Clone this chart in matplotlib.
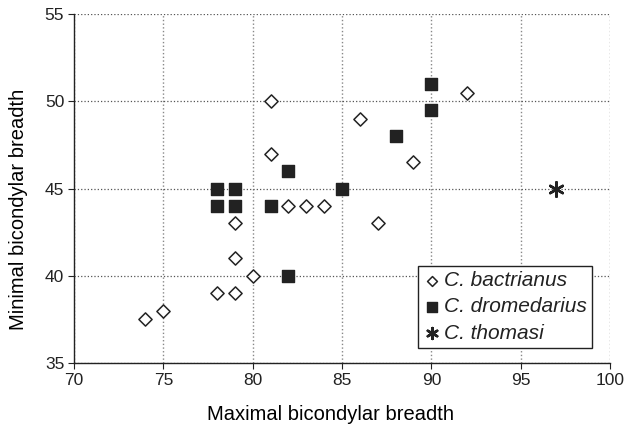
import matplotlib.pyplot as plt

plt.rcParams['font.family'] = ['Liberation Sans', 'DejaVu Sans']
plt.rcParams['text.color'] = '#222222'

# C. bactrianus
bact_x = [74, 75, 78, 79, 79, 79, 80, 81, 81, 82, 83, 84, 86, 87, 89, 92]
bact_y = [37.5, 38, 39, 39, 41, 43, 40, 50, 47, 44, 44, 44, 49, 43, 46.5, 50.5]

# C. dromedarius
drom_x = [78, 79, 78, 79, 81, 82, 82, 85, 88, 90, 90]
drom_y = [45, 45, 44, 44, 44, 46, 40, 45, 48, 51, 49.5]

# C. thomasi
thom_x = [97]
thom_y = [45]

fig = plt.figure(figsize=(6.4, 4.3), dpi=100)
ax = fig.add_axes([0.1156, 0.1558, 0.8375, 0.8116])

ax.xaxis.grid(True, linestyle=':', color='#888888', linewidth=1.0)
ax.yaxis.grid(True, linestyle=':', color='#555555', linewidth=0.9)
ax.set_axisbelow(True)

ax.scatter(bact_x, bact_y, marker='D', s=45, facecolors='white',
           edgecolors='#222222', linewidths=1.1, label='C. bactrianus', zorder=3)
ax.scatter(drom_x, drom_y, marker='s', s=75, color='#222222',
           label='C. dromedarius', zorder=3)
ax.scatter(thom_x, thom_y, marker=(6, 2, 0), s=110, color='#222222',
           linewidths=1.8, label='C. thomasi', zorder=3)

ax.set_xlim(70, 100)
ax.set_ylim(35, 55)
ax.set_xticks(range(70, 101, 5))
ax.set_yticks(range(35, 56, 5))
ax.tick_params(labelsize=12.5, direction='out', length=4, color='#222222',
               labelcolor='#222222', pad=3)

for side in ['top', 'right']:
    ax.spines[side].set_visible(False)
for side in ['left', 'bottom']:
    ax.spines[side].set_color('#222222')
    ax.spines[side].set_linewidth(1.0)

ax.set_xlabel('Maximal bicondylar breadth', fontsize=14.5)
ax.set_ylabel('Minimal bicondylar breadth', fontsize=14.5)
ax.xaxis.set_label_coords(0.478, -0.12)
ax.yaxis.set_label_coords(-0.085, 0.44)

leg = ax.legend(loc='lower left', bbox_to_anchor=(0.642, 0.043),
                prop={'style': 'italic', 'size': 15}, frameon=True,
                fancybox=False, edgecolor='#222222', markerscale=0.75,
                handletextpad=0.2, handlelength=0.8, borderpad=0.25,
                labelspacing=0.35, borderaxespad=0, framealpha=1)
leg.get_frame().set_linewidth(1.0)

fig.savefig('out.png', dpi=100)
